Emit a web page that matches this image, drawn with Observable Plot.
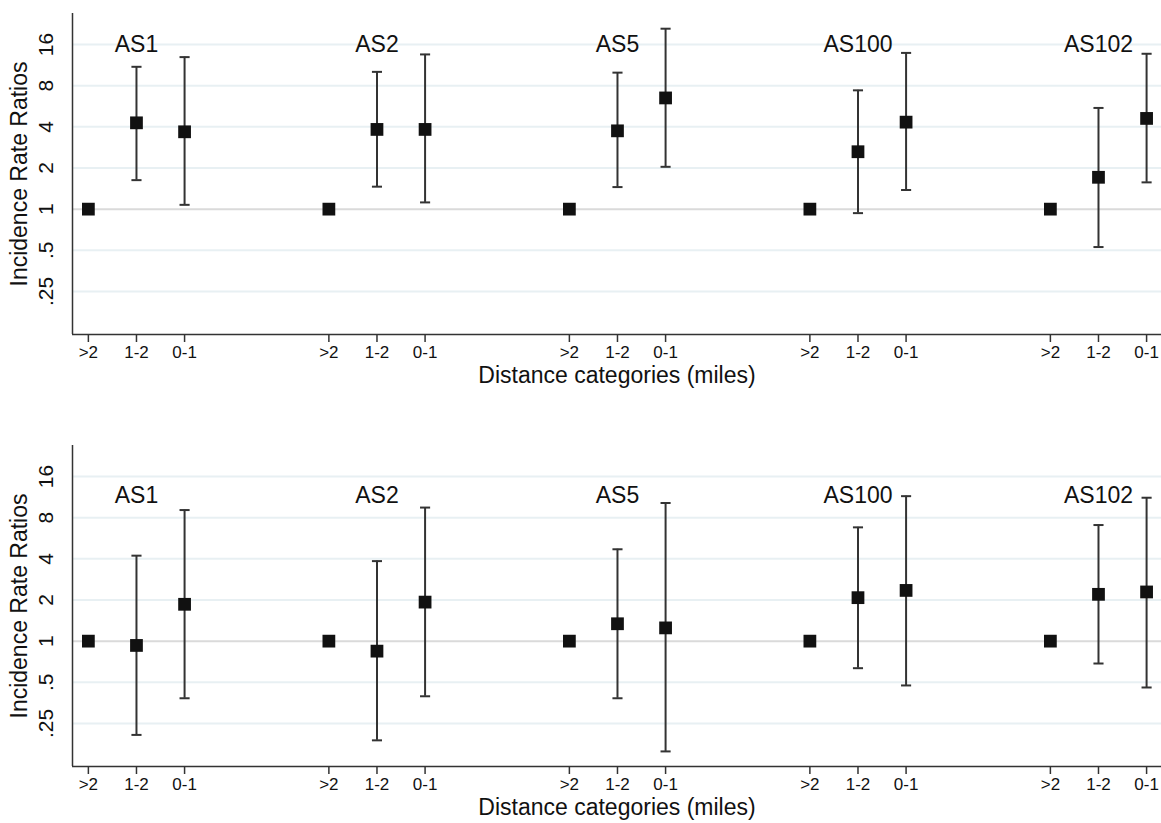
<!DOCTYPE html>
<html>
<head>
<meta charset="utf-8">
<script src="https://cdn.jsdelivr.net/npm/d3@7"></script>
<script src="https://cdn.jsdelivr.net/npm/@observablehq/plot@0.6"></script>
<style>
  html, body { margin: 0; padding: 0; background: #fff; overflow: hidden; }
  #chart { width: 1161px; }
  svg { display: block; }
</style>
</head>
<body>
<div id="chart"></div>
<script>
// ---- data ----
const groups = ["AS1", "AS2", "AS5", "AS100", "AS102"];
const categories = [">2", "1-2", "0-1"];
const yTicks = [0.25, 0.5, 1, 2, 4, 8, 16];
const yTickLabels = [".25", ".5", "1", "2", "4", "8", "16"];

// Panel 1 (top): incidence rate ratios and 95% CI per group, order >2, 1-2, 0-1
const topIRR = [
  [1, 4.28, 3.68],
  [1, 3.83, 3.83],
  [1, 3.74, 6.51],
  [1, 2.63, 4.33],
  [1, 1.71, 4.61]
];
const topLo = [
  [null, 1.63, 1.075],
  [null, 1.46, 1.12],
  [null, 1.45, 2.04],
  [null, 0.935, 1.38],
  [null, 0.528, 1.57]
];
const topHi = [
  [null, 11.0, 12.95],
  [null, 10.1, 13.55],
  [null, 9.97, 20.9],
  [null, 7.4, 13.9],
  [null, 5.5, 13.7]
];
const topLabelY = 16;

// Panel 2 (bottom)
const botIRR = [
  [1, 0.93, 1.86],
  [1, 0.845, 1.93],
  [1, 1.34, 1.25],
  [1, 2.08, 2.35],
  [1, 2.2, 2.29]
];
const botLo = [
  [null, 0.206, 0.382],
  [null, 0.188, 0.395],
  [null, 0.382, 0.156],
  [null, 0.634, 0.474],
  [null, 0.686, 0.458]
];
const botHi = [
  [null, 4.22, 9.1],
  [null, 3.85, 9.49],
  [null, 4.7, 10.25],
  [null, 6.8, 11.5],
  [null, 7.07, 11.2]
];
const botLabelY = 11.7;

const xTitle = "Distance categories (miles)";
const yTitle = "Incidence Rate Ratios";

// ---- layout helpers ----
const GAP = 5; // slots per group (3 categories + 2 empty)
const pos = (g, c) => g * GAP + c;
const xDomain = [-0.33, 22.31];
const yDomain = [0.121, 27];
const FONT = "Liberation Sans, Arial, sans-serif";

function rows(irr, lo, hi) {
  const out = [];
  groups.forEach((g, gi) => categories.forEach((c, ci) => {
    out.push({group: g, cat: c, x: pos(gi, ci), irr: irr[gi][ci], lo: lo[gi][ci], hi: hi[gi][ci]});
  }));
  return out;
}

const tickRows = [];
groups.forEach((g, gi) => categories.forEach((c, ci) => tickRows.push({x: pos(gi, ci), label: c})));

function panel(irr, lo, hi, labelY, height) {
  const data = rows(irr, lo, hi);
  const ci = data.filter(d => d.lo != null);
  const capHalf = 0.105;
  const labels = groups.map((g, gi) => ({label: g, x: pos(gi, 1), y: labelY}));
  return Plot.plot({
    width: 1161,
    height,
    marginLeft: 72,
    marginRight: 0,
    marginTop: 13,
    marginBottom: height - 334,
    style: {fontFamily: FONT, fontSize: "16px", background: "#fff", color: "#111"},
    x: {type: "linear", domain: xDomain, axis: null},
    y: {type: "log", base: 2, domain: yDomain, axis: null},
    marks: [
      Plot.ruleY(yTicks.filter(v => v !== 1), {stroke: "#e8f0f3", strokeWidth: 2}),
      Plot.ruleY([1], {stroke: "#dadada", strokeWidth: 2}),
      Plot.ruleX([xDomain[0]], {stroke: "#333", strokeWidth: 1.5}),
      Plot.ruleY([yDomain[0]], {stroke: "#333", strokeWidth: 1.5}),
      Plot.tickX(tickRows, {x: "x", frameAnchor: "bottom"}) && Plot.axisX({
        ticks: tickRows.map(d => d.x),
        tickFormat: null,
        text: null,
        tickSize: 8,
        stroke: "#333",
        strokeWidth: 1.5,
        label: null
      }),
      Plot.text(tickRows, {x: "x", text: "label", frameAnchor: "bottom", dy: 23, fontSize: 17, fill: "#111"}),
      Plot.text(yTicks, {
        y: d => d,
        text: (d, i) => yTickLabels[i],
        frameAnchor: "left",
        dx: -20,
        rotate: -90,
        textAnchor: "middle",
        lineAnchor: "bottom",
        fontSize: 21,
        fill: "#111"
      }),
      Plot.text([yTitle], {frameAnchor: "left", dx: -53, rotate: -90, textAnchor: "middle", lineAnchor: "middle", fontSize: 23, fill: "#111"}),
      Plot.text([xTitle], {frameAnchor: "bottom", dy: 48, textAnchor: "middle", fontSize: 23, fill: "#111"}),
      Plot.ruleX(ci, {x: "x", y1: "lo", y2: "hi", stroke: "#333", strokeWidth: 2}),
      Plot.link(ci, {x1: d => d.x - capHalf, x2: d => d.x + capHalf, y1: "lo", y2: "lo", stroke: "#333", strokeWidth: 2}),
      Plot.link(ci, {x1: d => d.x - capHalf, x2: d => d.x + capHalf, y1: "hi", y2: "hi", stroke: "#333", strokeWidth: 2}),
      Plot.dot(data, {x: "x", y: "irr", symbol: "square", r: 7.2, fill: "#111", stroke: "none"}),
      Plot.text(labels, {x: "x", y: "y", text: "label", fontSize: 23, fill: "#111"})
    ]
  });
}

const chartEl = document.getElementById("chart");
const topPanel = panel(topIRR, topLo, topHi, topLabelY, 400);
const botPanel = panel(botIRR, botLo, botHi, botLabelY, 391);
botPanel.style.marginTop = "32px";
chartEl.appendChild(topPanel);
chartEl.appendChild(botPanel);
</script>
</body>
</html>
